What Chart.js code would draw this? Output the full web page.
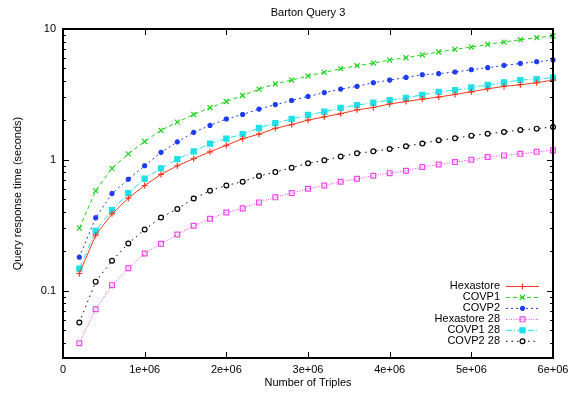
<!DOCTYPE html>
<html>
<head>
<meta charset="utf-8">
<title>Barton Query 3</title>
<script src="https://cdn.jsdelivr.net/npm/chart.js@4.4.1/dist/chart.umd.min.js"></script>
<style>
  html, body { margin: 0; padding: 0; background: #fff; }
  #wrap { width: 577px; height: 396px; }
</style>
</head>
<body>
<div id="wrap"><canvas id="bartonChart" width="577" height="396"></canvas></div>
<script>
// data (x = number of triples, y = seconds)
const triples = [200000, 400000, 600000, 800000, 1000000, 1200000, 1400000, 1600000, 1800000, 2000000,
    2200000, 2400000, 2600000, 2800000, 3000000, 3200000, 3400000, 3600000, 3800000, 4000000,
    4200000, 4400000, 4600000, 4800000, 5000000, 5200000, 5400000, 5600000, 5800000, 6000000];

const hexastore = [0.135, 0.265, 0.386, 0.509, 0.636, 0.773, 0.90, 1.02, 1.15, 1.29,
    1.45, 1.57, 1.74, 1.86, 2.01, 2.13, 2.25, 2.41, 2.51, 2.67,
    2.79, 2.91, 3.02, 3.16, 3.31, 3.49, 3.64, 3.75, 3.88, 4.07];
const covp1 = [0.30, 0.58, 0.86, 1.11, 1.38, 1.68, 1.94, 2.22, 2.50, 2.79,
    3.10, 3.47, 3.80, 4.07, 4.37, 4.66, 4.97, 5.24, 5.49, 5.79,
    6.03, 6.35, 6.67, 6.98, 7.28, 7.62, 7.95, 8.28, 8.58, 8.84];
const covp2 = [0.18, 0.36, 0.552, 0.71, 0.90, 1.14, 1.37, 1.62, 1.83, 2.05,
    2.22, 2.44, 2.64, 2.84, 3.05, 3.26, 3.47, 3.64, 3.88, 4.07,
    4.26, 4.47, 4.55, 4.69, 4.88, 5.06, 5.27, 5.45, 5.62, 5.79];
const hexastore28 = [0.0396, 0.072, 0.11, 0.148, 0.192, 0.228, 0.268, 0.313, 0.354, 0.395,
    0.425, 0.472, 0.516, 0.556, 0.60, 0.636, 0.68, 0.716, 0.755, 0.79,
    0.824, 0.88, 0.92, 0.96, 1.0, 1.05, 1.08, 1.11, 1.15, 1.18];
const covp1_28 = [0.147, 0.286, 0.412, 0.556, 0.716, 0.86, 1.01, 1.16, 1.33, 1.45,
    1.57, 1.75, 1.91, 2.05, 2.20, 2.33, 2.49, 2.62, 2.73, 2.86,
    2.97, 3.14, 3.30, 3.41, 3.57, 3.73, 3.90, 4.07, 4.14, 4.24];
const covp2_28 = [0.057, 0.117, 0.169, 0.229, 0.293, 0.362, 0.42, 0.506, 0.58, 0.636,
    0.68, 0.75, 0.805, 0.87, 0.94, 0.99, 1.06, 1.12, 1.16, 1.21,
    1.27, 1.33, 1.41, 1.46, 1.53, 1.58, 1.63, 1.69, 1.73, 1.78];

const xTicks = [0, 1000000, 2000000, 3000000, 4000000, 5000000, 6000000];
const yLabelled = [0.1, 1, 10];

const FONT = 'Liberation Sans';

function pts(ys) {
    return ys.map((y, i) => ({x: triples[i], y: y}));
}

function series(label, ys, color, dash, style, opts) {
    return Object.assign({
        label: label,
        data: pts(ys),
        borderColor: color,
        backgroundColor: color,
        borderWidth: 1,
        borderDash: dash,
        pointStyle: style,
        pointRadius: 3.2,
        pointBorderWidth: 1.2,
        pointBorderColor: color,
        pointBackgroundColor: color,
        tension: 0,
        clip: false
    }, opts || {});
}

// little marker painter for the legend samples
function drawMarker(ctx, ds, x, y) {
    const r = ds.pointRadius;
    ctx.save();
    ctx.setLineDash([]);
    ctx.lineWidth = ds.pointBorderWidth;
    ctx.strokeStyle = ds.pointBorderColor;
    ctx.fillStyle = ds.pointBackgroundColor;
    ctx.beginPath();
    switch (ds.pointStyle) {
        case 'cross':
            ctx.moveTo(x - r, y); ctx.lineTo(x + r, y);
            ctx.moveTo(x, y - r); ctx.lineTo(x, y + r);
            ctx.stroke();
            break;
        case 'crossRot':
            ctx.moveTo(x - r * 0.7, y - r * 0.7); ctx.lineTo(x + r * 0.7, y + r * 0.7);
            ctx.moveTo(x - r * 0.7, y + r * 0.7); ctx.lineTo(x + r * 0.7, y - r * 0.7);
            ctx.stroke();
            break;
        case 'star':
            ctx.moveTo(x - r, y); ctx.lineTo(x + r, y);
            ctx.moveTo(x, y - r); ctx.lineTo(x, y + r);
            ctx.moveTo(x - r * 0.7, y - r * 0.7); ctx.lineTo(x + r * 0.7, y + r * 0.7);
            ctx.moveTo(x - r * 0.7, y + r * 0.7); ctx.lineTo(x + r * 0.7, y - r * 0.7);
            ctx.stroke();
            break;
        case 'rect':
            const s = r * Math.SQRT1_2;
            ctx.rect(x - s, y - s, 2 * s, 2 * s);
            ctx.fill();
            ctx.stroke();
            break;
        case 'circle':
            ctx.arc(x, y, r, 0, Math.PI * 2);
            ctx.fill();
            ctx.stroke();
            break;
    }
    ctx.restore();
}

// gnuplot style frame: thick border, inward ticks, log minors, title, legend in the corner
const gnuplotFrame = {
    id: 'gnuplotFrame',
    afterDatasetsDraw(chart) {
        const {ctx, chartArea: a, scales: {x, y}} = chart;
        ctx.save();
        ctx.strokeStyle = '#000';
        ctx.setLineDash([]);

        ctx.lineWidth = 1;
        ctx.beginPath();
        xTicks.forEach(v => {
            const px = Math.round(x.getPixelForValue(v)) + 0.5;
            ctx.moveTo(px, a.bottom); ctx.lineTo(px, a.bottom - 6);
            ctx.moveTo(px, a.top); ctx.lineTo(px, a.top + 6);
        });
        for (let e = -2; e <= 1; e++) {
            for (let m = 1; m <= 9; m++) {
                const v = m * Math.pow(10, e);
                if (v < y.min - 1e-9 || v > y.max + 1e-9) continue;
                const py = Math.round(y.getPixelForValue(v)) + 0.5;
                const len = m === 1 ? 6 : 3;
                ctx.moveTo(a.left, py); ctx.lineTo(a.left + len, py);
                ctx.moveTo(a.right, py); ctx.lineTo(a.right - len, py);
            }
        }
        ctx.stroke();

        ctx.lineWidth = 2;
        ctx.strokeRect(a.left, a.top, a.right - a.left, a.bottom - a.top);

        // title
        ctx.fillStyle = '#000';
        ctx.font = '11px "' + FONT + '"';
        ctx.textAlign = 'center';
        ctx.textBaseline = 'middle';
        ctx.fillText('Barton Query 3', (a.left + a.right) / 2, 13);

        // legend
        const textRight = 500, lineFrom = 506, lineTo = 539, rowTop = 286, rowStep = 10.95;
        ctx.textAlign = 'right';
        chart.data.datasets.forEach((ds, i) => {
            const ry = rowTop + i * rowStep;
            ctx.fillStyle = '#000';
            ctx.fillText(ds.label, textRight, ry);
            ctx.save();
            ctx.strokeStyle = ds.borderColor;
            ctx.lineWidth = ds.borderWidth;
            ctx.setLineDash(ds.borderDash || []);
            ctx.beginPath();
            ctx.moveTo(lineFrom, ry + 0.5);
            ctx.lineTo(lineTo, ry + 0.5);
            ctx.stroke();
            ctx.restore();
            drawMarker(ctx, ds, (lineFrom + lineTo) / 2, ry + 0.5);
        });
        ctx.restore();
    }
};

const ctx = document.getElementById('bartonChart');

new Chart(ctx, {
    type: 'line',
    data: {
        datasets: [
            series('Hexastore', hexastore, '#f2381e', [], 'cross', {pointRadius: 3}),
            series('COVP1', covp1, '#1ed21e', [4, 3], 'crossRot', {pointRadius: 3.5}),
            series('COVP2', covp2, '#1e3cf0', [2, 3], 'star', {pointBorderWidth: 1.8, pointRadius: 2.6}),
            series('Hexastore 28', hexastore28, '#f046f0', [1, 1.5], 'rect', {pointBackgroundColor: 'rgba(0,0,0,0)', pointRadius: 3.4}),
            series('COVP1 28', covp1_28, '#1ee0e6', [6, 2, 1, 2], 'rect', {pointRadius: 3.6}),
            series('COVP2 28', covp2_28, '#000000', [1.5, 4], 'circle', {pointBackgroundColor: '#ffffff', pointRadius: 2.4})
        ]
    },
    options: {
        responsive: false,
        animation: false,
        devicePixelRatio: 1,
        layout: {
            padding: {left: 0, top: 29, right: 24, bottom: 0}
        },
        plugins: {
            legend: {display: false},
            title: {display: false},
            tooltip: {enabled: false}
        },
        scales: {
            x: {
                type: 'linear',
                min: 0,
                max: 6000000,
                afterBuildTicks: (scale) => {
                    scale.ticks = xTicks.map(v => ({value: v}));
                },
                afterFit: (scale) => { scale.height = 38; },
                grid: {display: false, drawTicks: false},
                border: {display: false},
                ticks: {
                    color: '#000',
                    padding: 5,
                    maxRotation: 0,
                    font: {family: FONT, size: 11},
                    callback: (v) => v === 0 ? '0' : (v / 1000000) + 'e+06'
                },
                title: {
                    display: true,
                    text: 'Number of Triples',
                    color: '#000',
                    font: {family: FONT, size: 11},
                    padding: {top: 0, bottom: 6}
                }
            },
            y: {
                type: 'logarithmic',
                min: 0.0305,
                max: 10,
                afterBuildTicks: (scale) => {
                    scale.ticks = yLabelled.map(v => ({value: v}));
                },
                afterFit: (scale) => { scale.width = 63; },
                grid: {display: false, drawTicks: false},
                border: {display: false},
                ticks: {
                    color: '#000',
                    padding: 7,
                    font: {family: FONT, size: 11},
                    callback: (v) => String(v)
                },
                title: {
                    display: true,
                    text: 'Query response time (seconds)',
                    color: '#000',
                    font: {family: FONT, size: 11},
                    padding: {top: 11, bottom: 0}
                }
            }
        }
    },
    plugins: [gnuplotFrame]
});
</script>
</body>
</html>
